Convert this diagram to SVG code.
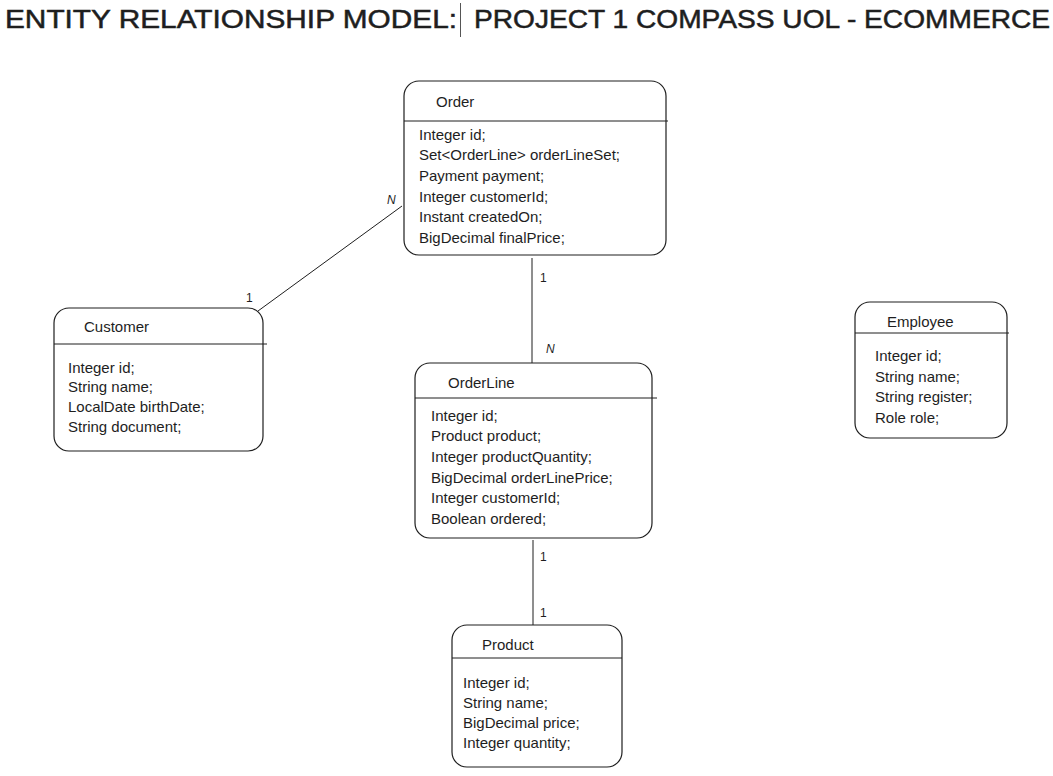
<svg xmlns="http://www.w3.org/2000/svg" width="1053" height="776" viewBox="0 0 1053 776">
<style>
.box{fill:#ffffff;stroke:#1e1e1e;stroke-width:1.2}
.div{stroke:#1e1e1e;stroke-width:1}
.conn{stroke:#1e1e1e;stroke-width:1;fill:none}
.t{font-family:"Liberation Sans",Arial,sans-serif;font-size:15px;fill:#1e1e1e}
.h{font-family:"Liberation Sans",Arial,sans-serif;font-size:15px;fill:#1e1e1e}
.lbl{font-family:"Liberation Sans",Arial,sans-serif;font-size:12px;fill:#1e1e1e}
.title{font-family:"Liberation Sans",Arial,sans-serif;font-size:25px;fill:#1e1e1e;stroke:#1e1e1e;stroke-width:0.5}
</style>
<rect width="1053" height="776" fill="#ffffff"/>
<g id="title">
<text class="title" y="28"><tspan x="5" textLength="452" lengthAdjust="spacingAndGlyphs">ENTITY RELATIONSHIP MODEL:</tspan><tspan x="474" textLength="576" lengthAdjust="spacingAndGlyphs">PROJECT 1 COMPASS UOL - ECOMMERCE</tspan></text>
<line x1="460.5" y1="3" x2="460.5" y2="37" stroke="#555" stroke-width="1"/>
</g>
<g id="connectors">
<line class="conn" x1="402" y1="206" x2="258" y2="311"/>
<line class="conn" x1="532" y1="258" x2="532" y2="363"/>
<line class="conn" x1="533" y1="540" x2="533" y2="625"/>
<text class="lbl" x="387" y="204" font-style="italic">N</text>
<text class="lbl" x="246" y="302">1</text>
<text class="lbl" x="540" y="282">1</text>
<text class="lbl" x="546" y="353" font-style="italic">N</text>
<text class="lbl" x="540" y="561">1</text>
<text class="lbl" x="540" y="617">1</text>
</g>
<g id="order">
<rect class="box" x="404" y="81" width="262" height="174" rx="15"/>
<line class="div" x1="404" y1="121" x2="668" y2="121"/>
<text class="h" x="436" y="107">Order</text>
<text class="t" x="419" y="140">Integer id;</text>
<text class="t" x="419" y="160">Set&lt;OrderLine&gt; orderLineSet;</text>
<text class="t" x="419" y="181">Payment payment;</text>
<text class="t" x="419" y="202">Integer customerId;</text>
<text class="t" x="419" y="222">Instant createdOn;</text>
<text class="t" x="419" y="243">BigDecimal finalPrice;</text>
</g>
<g id="customer">
<rect class="box" x="54" y="308" width="209" height="143" rx="15"/>
<line class="div" x1="54" y1="344" x2="267" y2="344"/>
<text class="h" x="84" y="332">Customer</text>
<text class="t" x="68" y="373">Integer id;</text>
<text class="t" x="68" y="392">String name;</text>
<text class="t" x="68" y="412">LocalDate birthDate;</text>
<text class="t" x="68" y="432">String document;</text>
</g>
<g id="employee">
<rect class="box" x="855" y="302" width="152" height="136" rx="15"/>
<line class="div" x1="855" y1="333" x2="1009" y2="333"/>
<text class="h" x="887" y="327">Employee</text>
<text class="t" x="875" y="361">Integer id;</text>
<text class="t" x="875" y="382">String name;</text>
<text class="t" x="875" y="402">String register;</text>
<text class="t" x="875" y="423">Role role;</text>
</g>
<g id="orderline">
<rect class="box" x="415" y="363" width="237" height="175" rx="15"/>
<line class="div" x1="415" y1="398" x2="657" y2="398"/>
<text class="h" x="448" y="388">OrderLine</text>
<text class="t" x="431" y="421">Integer id;</text>
<text class="t" x="431" y="441">Product product;</text>
<text class="t" x="431" y="462">Integer productQuantity;</text>
<text class="t" x="431" y="483">BigDecimal orderLinePrice;</text>
<text class="t" x="431" y="503">Integer customerId;</text>
<text class="t" x="431" y="524">Boolean ordered;</text>
</g>
<g id="product">
<rect class="box" x="452" y="625" width="170" height="142" rx="15"/>
<line class="div" x1="452" y1="658" x2="622" y2="658"/>
<text class="h" x="482" y="650">Product</text>
<text class="t" x="463" y="688">Integer id;</text>
<text class="t" x="463" y="708">String name;</text>
<text class="t" x="463" y="728">BigDecimal price;</text>
<text class="t" x="463" y="748">Integer quantity;</text>
</g>
</svg>
